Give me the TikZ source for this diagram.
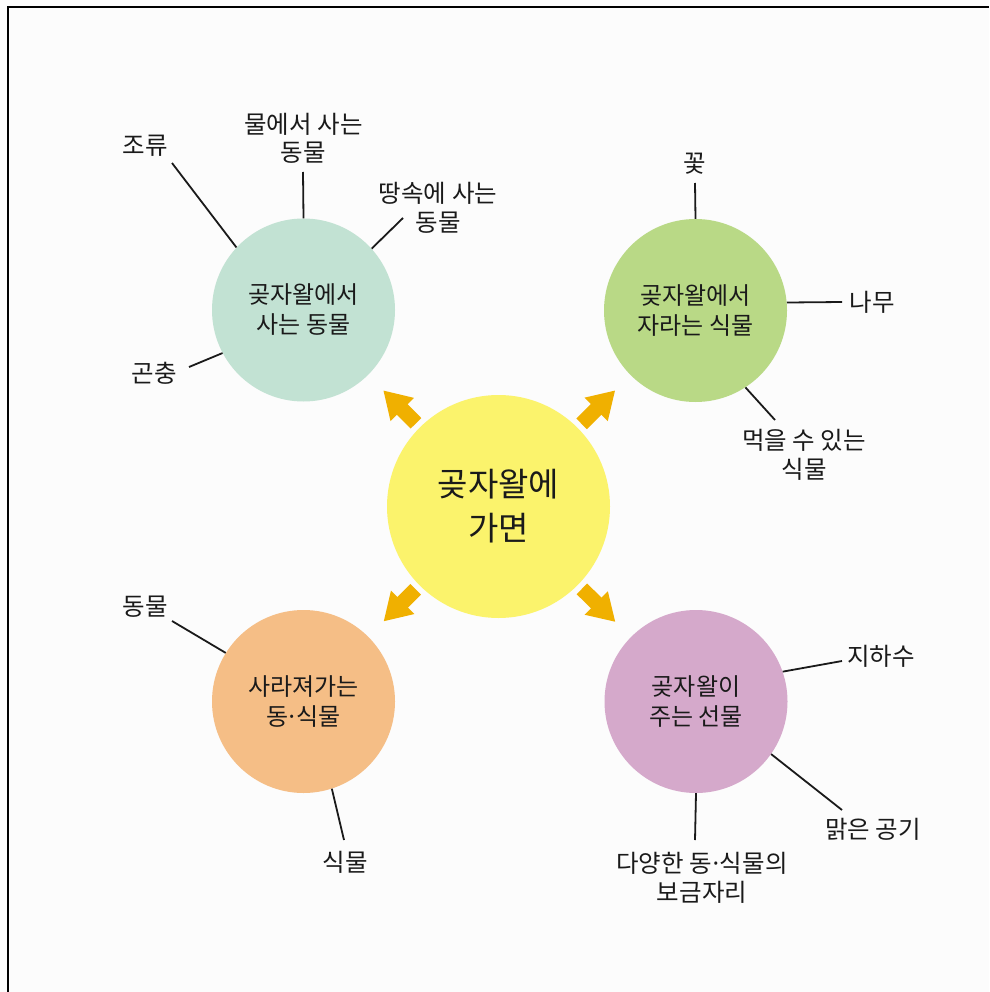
\documentclass[tikz,border=0pt]{standalone}
\usepackage{fontspec}
\setmainfont{Noto Sans CJK KR}
\usetikzlibrary{arrows.meta}
\definecolor{bgc}{HTML}{FCFCFC}
\definecolor{cyellow}{HTML}{FBF36C}
\definecolor{cmint}{HTML}{C2E2D3}
\definecolor{cgreen}{HTML}{B9D986}
\definecolor{corange}{HTML}{F5BE86}
\definecolor{cpink}{HTML}{D5A9CB}
\definecolor{carrow}{HTML}{F0B000}
\definecolor{ink}{HTML}{1A1A1A}
\newcommand\mdotk{\kern-.12em·\kern-.12em}
\begin{document}
\begin{tikzpicture}[x=1pt,y=-1pt,
  bub/.style={circle, minimum size=183pt, inner sep=0pt, align=center, text=ink,
    font=\fontsize{24}{30}\selectfont},
  lbl/.style={align=center, inner sep=0pt, text=ink, font=\fontsize{24.5}{28.5}\selectfont},
  lnk/.style={line width=1.8pt, draw=ink},
  bigarrow/.style={draw=carrow, line width=15pt,
    -{Triangle[length=27pt,width=31pt]}, shorten <=5.5pt, shorten >=21.5pt}]
\useasboundingbox (0,0) rectangle (989,992);
\fill[bgc] (0,0) rectangle (989,992);
\draw[line width=2pt] (8.3,992) -- (8.3,6.7) -- (989,6.7);

% centre
\node[circle, fill=cyellow, minimum size=223pt, inner sep=0pt, align=center, text=ink,
  font=\fontsize{33}{44}\selectfont] (c) at (498.5,506.5) {곶자왈에\\가면};

% four circles
\node[bub, fill=cmint]   (g1) at (303.5,310)   {곶자왈에서\\사는 동물};
\node[bub, fill=cgreen]  (g2) at (695.5,310.5) {곶자왈에서\\자라는 식물};
\node[bub, fill=corange] (g3) at (303.5,701.5) {사라져가는\\동\mdotk 식물};
\node[bub, fill=cpink]   (g4) at (696,701.5)   {곶자왈이\\주는 선물};

% arrows
\draw[bigarrow] (c) -- (g1);
\draw[bigarrow] (c) -- (g2);
\draw[bigarrow] (c) -- (g3);
\draw[bigarrow] (c) -- (g4);

% labels
\node[lbl] (l1) at (145,146) {조류};
\node[lbl] (l2) at (303.5,138.5) {물에서 사는\\동물};
\node[lbl] (l3) at (438,208) {땅속에 사는\\동물};
\node[lbl] (l4) at (154,373) {곤충};
\node[lbl] (l5) at (695,164) {꽃};
\node[lbl] (l6) at (872,302) {나무};
\node[lbl] (l7) at (804,455) {먹을 수 있는\\식물};
\node[lbl] (l8) at (145,607) {동물};
\node[lbl] (l9) at (345,862) {식물};
\node[lbl] (l10) at (881,656) {지하수};
\node[lbl] (l11) at (873,829) {맑은 공기};
\node[lbl] (l12) at (702,878) {다양한 동\mdotk 식물의\\보금자리};

% free ends of connectors
\coordinate (e1) at (172,163);
\coordinate (e2) at (303,172);
\coordinate (e3) at (403,218);
\coordinate (e4) at (189,367);
\coordinate (e5) at (695,183);
\coordinate (e6) at (842,302);
\coordinate (e7) at (775,420);
\coordinate (e8) at (172,621);
\coordinate (e9) at (344,840);
\coordinate (e10) at (842,661);
\coordinate (e11) at (842,810);
\coordinate (e12) at (695,840);

\draw[lnk] (g1.137.4) -- (e1);
\draw[lnk] (g1.90) -- (e2);
\draw[lnk] (g1.42.1) -- (e3);
\draw[lnk] (g1.208.1) -- (e4);
\draw[lnk] (g2.90) -- (e5);
\draw[lnk] (g2.5.3) -- (e6);
\draw[lnk] (g2.-57.4) -- (e7);
\draw[lnk] (g3.148.8) -- (e8);
\draw[lnk] (g3.-72.2) -- (e9);
\draw[lnk] (g4.19.3) -- (e10);
\draw[lnk] (g4.-35.9) -- (e11);
\draw[lnk] (g4.-90) -- (e12);
\end{tikzpicture}
\end{document}
